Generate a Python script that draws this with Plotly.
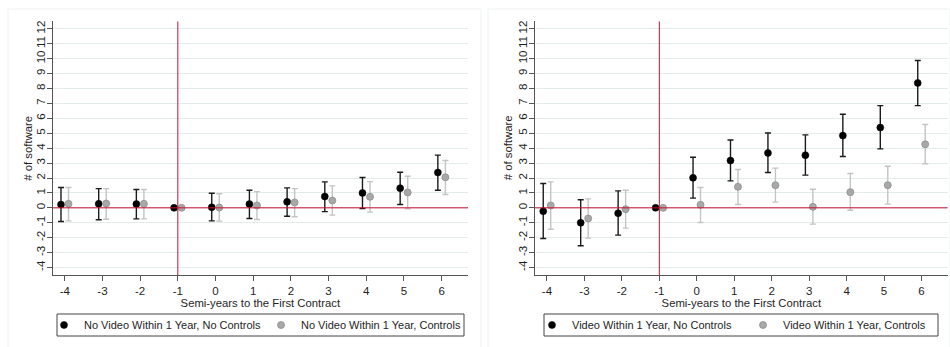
import plotly.graph_objects as go

# ---------------- data ----------------
periods = [-4, -3, -2, -1, 0, 1, 2, 3, 4, 5, 6]
x_ticks = [-4, -3, -2, -1, 0, 1, 2, 3, 4, 5, 6]
y_ticks = list(range(-4, 13))

# Left panel: No Video Within 1 Year
nv_nc_est = [0.22, 0.27, 0.25, 0.0, 0.04, 0.25, 0.40, 0.76, 1.00, 1.32, 2.37]
nv_nc_lo = [-0.92, -0.80, -0.74, 0.0, -0.87, -0.71, -0.56, -0.25, -0.04, 0.22, 1.18]
nv_nc_hi = [1.36, 1.29, 1.23, 0.0, 0.98, 1.18, 1.34, 1.74, 2.03, 2.39, 3.53]

nv_c_est = [0.27, 0.29, 0.27, 0.0, 0.02, 0.16, 0.36, 0.49, 0.74, 1.03, 2.05]
nv_c_lo = [-0.87, -0.76, -0.74, 0.0, -0.89, -0.78, -0.60, -0.49, -0.29, -0.07, 0.89]
nv_c_hi = [1.36, 1.29, 1.23, 0.0, 0.94, 1.09, 1.29, 1.47, 1.76, 2.12, 3.17]

# Right panel: Video Within 1 Year
v_nc_est = [-0.22, -1.00, -0.36, 0.0, 2.01, 3.17, 3.68, 3.53, 4.84, 5.38, 8.37]
v_nc_lo = [-2.05, -2.54, -1.83, 0.0, 0.65, 1.81, 2.37, 2.19, 3.44, 3.95, 6.85]
v_nc_hi = [1.63, 0.54, 1.14, 0.0, 3.39, 4.55, 5.02, 4.89, 6.27, 6.85, 9.87]

v_c_est = [0.16, -0.71, -0.09, 0.0, 0.20, 1.41, 1.52, 0.07, 1.05, 1.52, 4.26]
v_c_lo = [-1.43, -2.03, -1.36, 0.0, -0.98, 0.22, 0.38, -1.09, -0.16, 0.25, 2.95]
v_c_hi = [1.74, 0.60, 1.18, 0.0, 1.36, 2.57, 2.66, 1.25, 2.30, 2.79, 5.58]

x_label = "Semi-years to the First Contract"
y_label = "# of software"
names_left = ["No Video Within 1 Year, No Controls", "No Video Within 1 Year, Controls"]
names_right = ["Video Within 1 Year, No Controls", "Video Within 1 Year, Controls"]

# ---------------- styling ----------------
W, H = 950, 347
FONT = "Liberation Sans, Arial, sans-serif"
TXT = "#1e1e1e"
RED = "#c8102e"
GRID = "#e4ebeb"
OFF = 0.1

BLACK = dict(color="#000000", size=7, line=dict(color="#000000", width=0.5))
GRAY = dict(color="#a8a8a8", size=7, line=dict(color="#8f8f8f", width=0.8))


def px_x(p):
    return p / W


def px_y(p):
    return 1 - p / H


fig = go.Figure()


def add_series(est, lo, hi, shift, name, marker, ecolor, xa, ya, legend):
    xs = [p + shift for p in periods]
    fig.add_trace(go.Scatter(
        x=xs, y=est, mode="markers", name=name, marker=marker,
        error_y=dict(type="data", symmetric=False,
                     array=[h - e for h, e in zip(hi, est)],
                     arrayminus=[e - l for e, l in zip(est, lo)],
                     color=ecolor, thickness=1.4, width=3),
        xaxis=xa, yaxis=ya, legend=legend, showlegend=True,
    ))


add_series(nv_nc_est, nv_nc_lo, nv_nc_hi, -OFF, names_left[0], BLACK, "#1a1a1a", "x", "y", "legend")
add_series(nv_c_est, nv_c_lo, nv_c_hi, OFF, names_left[1], GRAY, "#c4c4c4", "x", "y", "legend")
add_series(v_nc_est, v_nc_lo, v_nc_hi, -OFF, names_right[0], BLACK, "#1a1a1a", "x2", "y2", "legend2")
add_series(v_c_est, v_c_lo, v_c_hi, OFF, names_right[1], GRAY, "#c4c4c4", "x2", "y2", "legend2")

xrange = [-4.32, 6.7]
yrange = [-4.5, 12.5]
ydom = [px_y(275), px_y(21.3)]

common_x = dict(range=xrange, tickvals=x_ticks, ticktext=[str(v) for v in x_ticks],
                showgrid=False, zeroline=False, showline=True, linecolor="#555555", linewidth=1,
                ticks="outside", ticklen=5, tickcolor="#555555",
                tickfont=dict(family=FONT, size=11.5, color=TXT),
                title=dict(text=x_label, font=dict(family=FONT, size=11.3, color=TXT), standoff=3),
                automargin=False)
common_y = dict(range=yrange, tickvals=y_ticks, ticktext=[str(v) for v in y_ticks],
                showgrid=True, gridcolor=GRID, gridwidth=1, zeroline=False,
                showline=True, linecolor="#555555", linewidth=1,
                ticks="outside", ticklen=5, tickcolor="#555555", tickangle=-90,
                ticklabelstandoff=-3,
                tickfont=dict(family=FONT, size=11.5, color=TXT),
                automargin=False)

LEG_FONT = dict(family=FONT, size=11, color=TXT)
fig.update_layout(
    width=W, height=H, margin=dict(l=0, r=0, t=0, b=0, autoexpand=False),
    paper_bgcolor="white", plot_bgcolor="white",
    xaxis=dict(domain=[px_x(52.7), px_x(468)], anchor="y", **common_x),
    yaxis=dict(domain=ydom, anchor="x", **common_y),
    xaxis2=dict(domain=[px_x(535), px_x(947.7)], anchor="y2", **common_x),
    yaxis2=dict(domain=ydom, anchor="x2", **common_y),
    legend=dict(orientation="h", x=px_x(44), y=px_y(325), xanchor="left", yanchor="middle",
                borderwidth=0, bgcolor="rgba(0,0,0,0)", font=LEG_FONT, tracegroupgap=0,
                entrywidth=172, entrywidthmode="pixels"),
    legend2=dict(orientation="h", x=px_x(532), y=px_y(325), xanchor="left", yanchor="middle",
                 borderwidth=0, bgcolor="rgba(0,0,0,0)", font=LEG_FONT, tracegroupgap=0,
                 entrywidth=166, entrywidthmode="pixels"),
)

# y-axis titles (rotated, placed left of the tick labels)
for xp in [28.5, 508]:
    fig.add_annotation(text=y_label, xref="paper", yref="paper", x=px_x(xp),
                       y=(ydom[0] + ydom[1]) / 2, textangle=-90, showarrow=False,
                       xanchor="center", yanchor="middle",
                       font=dict(family=FONT, size=11.3, color=TXT))

# faint panel frames
for x0, x1 in [(8, 481), (488, 950)]:
    fig.add_shape(type="rect", xref="paper", yref="paper",
                  x0=px_x(x0), x1=px_x(x1), y0=px_y(350), y1=px_y(9),
                  line=dict(color="#eef1f1", width=1), layer="below")

# legend boxes
for x0, x1 in [(57, 464), (544, 938)]:
    fig.add_shape(type="rect", xref="paper", yref="paper",
                  x0=px_x(x0), x1=px_x(x1), y0=px_y(336), y1=px_y(314),
                  line=dict(color="#444444", width=1), fillcolor="rgba(0,0,0,0)")

# reference lines
for xa, ya in [("x", "y"), ("x2", "y2")]:
    fig.add_shape(type="line", xref=xa, yref=ya, x0=-1, x1=-1, y0=yrange[0], y1=yrange[1],
                  line=dict(color=RED, width=1))
    fig.add_shape(type="line", xref=xa, yref=ya, x0=xrange[0], x1=xrange[1], y0=0, y1=0,
                  line=dict(color=RED, width=1))

fig.write_html("out.html")
